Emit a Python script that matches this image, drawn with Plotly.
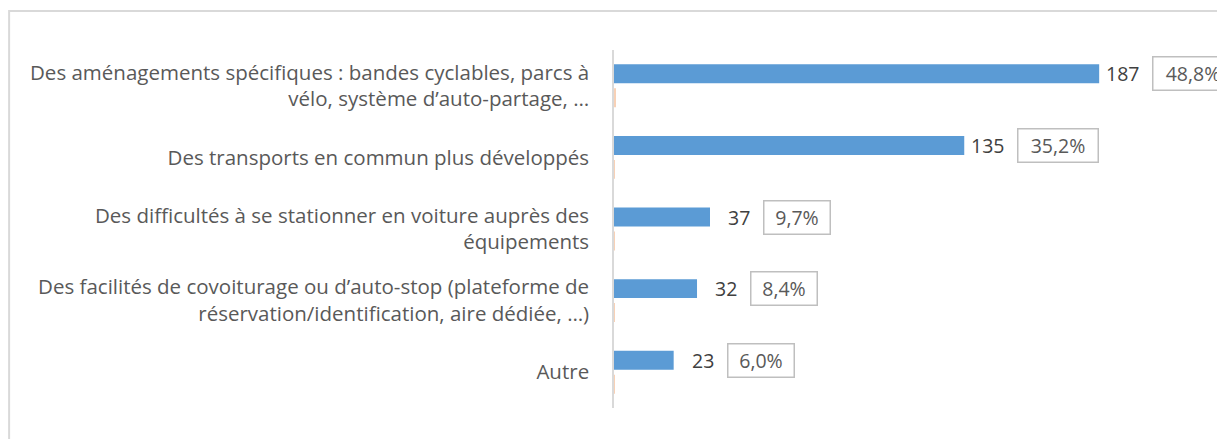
import plotly.graph_objects as go

categories = [
    "Des aménagements spécifiques : bandes cyclables, parcs à<br>vélo, système d’auto-partage, …",
    "Des transports en commun plus développés",
    "Des difficultés à se stationner en voiture auprès des<br>équipements",
    "Des facilités de covoiturage ou d’auto-stop (plateforme de<br>réservation/identification, aire dédiée, …)",
    "Autre",
]
counts = [187, 135, 37, 32, 23]
shares = [0.488, 0.352, 0.097, 0.084, 0.060]
share_labels = ["48,8%", "35,2%", "9,7%", "8,4%", "6,0%"]

FONT = "Open Sans"
TXT = "#595959"

fig = go.Figure()
fig.add_trace(go.Bar(y=categories, x=counts, orientation="h",
                     marker=dict(color="#5B9BD5", line=dict(width=0)),
                     hoverinfo="skip"))
fig.add_trace(go.Bar(y=categories, x=shares, orientation="h",
                     marker=dict(color="#ED7D31", line=dict(width=0)),
                     opacity=0.35, hoverinfo="skip"))

annotations = []
for cat, c, lab in zip(categories, counts, share_labels):
    annotations.append(dict(x=c, y=cat, xref="x", yref="y", text=str(c),
                            showarrow=False, xanchor="right", yshift=12, xshift=42,
                            font=dict(family=FONT, size=19.5, color="#404040")))
    annotations.append(dict(x=c, y=cat, xref="x", yref="y", text=lab,
                            showarrow=False, xanchor="left", yshift=12,
                            xshift=53, width=14 * len(lab) + 1, height=24,
                            align="center",
                            bordercolor="#BFBFBF", borderwidth=1.5, borderpad=4,
                            bgcolor="white",
                            font=dict(family=FONT, size=19.5, color=TXT)))

fig.update_layout(
    width=1217, height=431,
    margin=dict(l=606, r=0, t=42, b=31),
    paper_bgcolor="white", plot_bgcolor="white",
    barmode="group", bargap=0.33, bargroupgap=0.21,
    showlegend=False,
    font=dict(family=FONT, color=TXT),
    xaxis=dict(range=[0, 235.5], visible=False, showgrid=False, zeroline=False),
    yaxis=dict(autorange="reversed", showline=True, linecolor="#D9D9D9", linewidth=1.5,
               ticks="", showgrid=False, ticklabelstandoff=19,
               tickfont=dict(family=FONT, size=20.5, color=TXT)),
    annotations=annotations,
    shapes=[dict(type="rect", xref="paper", yref="paper",
                 x0=-0.990, x1=1.02, y0=-0.2, y1=1.1089,
                 line=dict(color="#D9D9D9", width=2), layer="below")],
)

fig.write_html("out.html")
